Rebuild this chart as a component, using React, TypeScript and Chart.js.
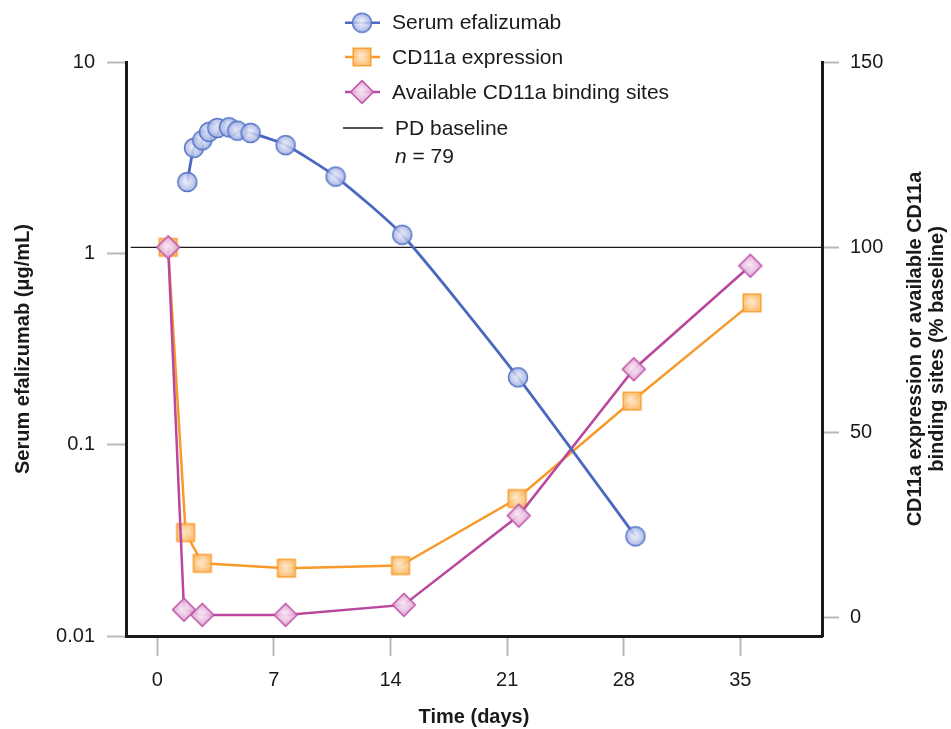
import React, { useEffect, useRef } from 'react';
import { Chart, registerables } from 'chart.js';
Chart.register(...registerables);

const FONT = '"Liberation Sans", Arial, Helvetica, sans-serif';
const INK = '#1a1a1a';

// ---- data ----
const serumDays = [1.8, 2.2, 2.7, 3.1, 3.6, 4.3, 4.8, 5.6, 7.7, 10.7, 14.7, 21.65, 28.7];
const serumValues = [2.36, 3.56, 3.9, 4.31, 4.52, 4.56, 4.38, 4.26, 3.68, 2.52, 1.25, 0.225, 0.0332];
const cd11aDays = [0.65, 1.7, 2.7, 7.75, 14.6, 21.6, 28.5, 35.7];
const cd11aValues = [100, 23, 14.7, 13.4, 14.1, 32.2, 58.5, 85];
const bindingDays = [0.65, 1.6, 2.7, 7.7, 14.8, 21.7, 28.6, 35.6];
const bindingValues = [100, 2.2, 0.8, 0.8, 3.5, 27.6, 67.1, 95];
const baselineDays = [-1.6, 39.9];
const baselineValues = [100, 100];

const xTicks = [0, 7, 14, 21, 28, 35];
const leftTicks = [0.01, 0.1, 1, 10];
const rightTicks = [0, 50, 100, 150];

const seriesLabels = ['Serum efalizumab', 'CD11a expression', 'Available CD11a binding sites', 'PD baseline'];
const nLabel = '79';
const xTitle = 'Time (days)';
const leftTitle = 'Serum efalizumab (\u03bcg/mL)';
const rightTitleLines = ['CD11a expression or available CD11a', 'binding sites (% baseline)'];

const X_MIN = -1.88;
const X_MAX = 39.9;
const R_MIN = -4.9;
const R_MAX = 150;

const BLUE = '#4a68c0';
const ORANGE = '#f89a2a';
const MAGENTA = '#b9479d';

function makeMarker(kind: string, stroke: string, light: string, dark: string) {
  const c = document.createElement('canvas');
  const S = 26;
  c.width = S;
  c.height = S;
  const g = c.getContext('2d')!;
  const cx = S / 2, cy = S / 2;
  g.beginPath();
  if (kind === 'circle') g.arc(cx, cy, 9.5, 0, Math.PI * 2);
  else if (kind === 'square') g.rect(cx - 8.8, cy - 8.8, 17.6, 17.6);
  else {
    const r = 11.4;
    g.moveTo(cx, cy - r);
    g.lineTo(cx + r, cy);
    g.lineTo(cx, cy + r);
    g.lineTo(cx - r, cy);
    g.closePath();
  }
  const grad = g.createRadialGradient(cx - 1, cy - 1, 0, cx, cy, 11);
  grad.addColorStop(0, light);
  grad.addColorStop(1, dark);
  g.fillStyle = grad;
  g.fill();
  g.lineWidth = 1.5;
  g.strokeStyle = stroke;
  g.stroke();
  return c;
}

const toXY = (xs: number[], ys: number[]) => xs.map((x, i) => ({ x, y: ys[i] }));

export default function App() {
  const ref = useRef<HTMLCanvasElement>(null);
  useEffect(() => {
    document.body.style.margin = '0';
    const canvas = ref.current!;
    const circle = makeMarker('circle', '#5673c8', 'rgba(242,244,252,0.85)', 'rgba(145,162,222,0.85)');
    const square = makeMarker('square', '#f8a035', 'rgba(255,236,210,0.92)', 'rgba(250,178,85,0.92)');
    const diamond = makeMarker('diamond', '#c058a8', 'rgba(252,238,248,0.92)', 'rgba(222,162,212,0.92)');

    const overlay = {
      id: 'overlay',
      afterDraw(chart: any) {
        const ctx = chart.ctx;
        ctx.save();
        // legend
        const lx1 = 345, lx2 = 380, mx = 362, tx = 392;
        const rows = [
          { y: 22.7, color: BLUE, img: circle },
          { y: 57, color: ORANGE, img: square },
          { y: 92, color: MAGENTA, img: diamond },
        ];
        rows.forEach((r, i) => {
          ctx.strokeStyle = r.color;
          ctx.lineWidth = 2.5;
          ctx.beginPath();
          ctx.moveTo(lx1, r.y);
          ctx.lineTo(lx2, r.y);
          ctx.stroke();
          ctx.drawImage(r.img, mx - r.img.width / 2, r.y - r.img.height / 2);
          ctx.fillStyle = INK;
          ctx.font = `21px ${FONT}`;
          ctx.textAlign = 'left';
          ctx.textBaseline = 'middle';
          ctx.fillText(seriesLabels[i], tx, r.y + 1);
        });
        ctx.strokeStyle = INK;
        ctx.lineWidth = 1.3;
        ctx.beginPath();
        ctx.moveTo(343, 128);
        ctx.lineTo(383, 128);
        ctx.stroke();
        ctx.fillText(seriesLabels[3], 395, 129);
        ctx.font = `italic 21px ${FONT}`;
        ctx.fillText('n', 395, 157);
        const nw = ctx.measureText('n').width;
        ctx.font = `21px ${FONT}`;
        ctx.fillText(' = ' + nLabel, 395 + nw, 157);

        // right title, reading bottom to top
        const area = chart.chartArea;
        const cy = (area.top + area.bottom) / 2;
        ctx.translate(915, cy);
        ctx.rotate(-Math.PI / 2);
        ctx.font = `bold 20px ${FONT}`;
        ctx.textAlign = 'center';
        ctx.textBaseline = 'middle';
        ctx.fillText(rightTitleLines[0], 0, 0);
        ctx.fillText(rightTitleLines[1], 0, 22);
        ctx.restore();
      },
    };

    const chart = new Chart(canvas, {
      type: 'line',
      data: {
        datasets: [
          {
            label: seriesLabels[0],
            data: toXY(serumDays, serumValues),
            yAxisID: 'y',
            borderColor: BLUE,
            borderWidth: 2.8,
            pointStyle: circle as any,
            tension: 0.2,
            order: 1,
          },
          {
            label: seriesLabels[2],
            data: toXY(bindingDays, bindingValues),
            yAxisID: 'y1',
            borderColor: MAGENTA,
            borderWidth: 2.5,
            pointStyle: diamond as any,
            tension: 0,
            order: 2,
          },
          {
            label: seriesLabels[1],
            data: toXY(cd11aDays, cd11aValues),
            yAxisID: 'y1',
            borderColor: ORANGE,
            borderWidth: 2.5,
            pointStyle: square as any,
            tension: 0,
            order: 3,
          },
          {
            label: seriesLabels[3],
            data: toXY(baselineDays, baselineValues),
            yAxisID: 'y1',
            borderColor: INK,
            borderWidth: 1.3,
            pointRadius: 0,
            order: 4,
          },
        ],
      },
      options: {
        responsive: false,
        animation: false,
        layout: { padding: { top: 62, left: 0, right: 0, bottom: 0 } },
        plugins: { legend: { display: false }, tooltip: { enabled: false } },
        elements: { point: { radius: 10 } },
        scales: {
          x: {
            type: 'linear',
            min: X_MIN,
            max: X_MAX,
            afterBuildTicks: (s: any) => { s.ticks = xTicks.map((v) => ({ value: v })); },
            afterFit: (s: any) => { s.height = 93; },
            border: { display: true, color: INK, width: 3 },
            grid: { drawOnChartArea: false, drawTicks: true, tickLength: 20, tickColor: '#b8b8b8', tickWidth: 2 },
            ticks: { font: { size: 20, family: FONT }, color: INK, padding: 12, maxRotation: 0, autoSkip: false },
            title: { display: true, text: xTitle, font: { size: 20, weight: 'bold', family: FONT }, color: INK, padding: { top: 0, bottom: 0 } },
          },
          y: {
            type: 'logarithmic',
            position: 'left',
            min: 0.01,
            max: 10,
            afterBuildTicks: (s: any) => { s.ticks = leftTicks.map((v) => ({ value: v })); },
            afterFit: (s: any) => { s.width = 126; },
            border: { display: true, color: INK, width: 3 },
            grid: { drawOnChartArea: false, drawTicks: true, tickLength: 19, tickColor: '#b8b8b8', tickWidth: 2 },
            ticks: { font: { size: 20, family: FONT }, color: INK, padding: 12, callback: (v: any) => String(v) },
            title: { display: true, text: leftTitle, font: { size: 20, weight: 'bold', family: FONT }, color: INK, padding: { top: 11, bottom: 0 } },
          },
          y1: {
            type: 'linear',
            position: 'right',
            min: R_MIN,
            max: R_MAX,
            afterBuildTicks: (s: any) => { s.ticks = rightTicks.map((v) => ({ value: v })); },
            afterFit: (s: any) => { s.width = 129; },
            border: { display: true, color: INK, width: 3 },
            grid: { drawOnChartArea: false, drawTicks: true, tickLength: 17, tickColor: '#b8b8b8', tickWidth: 2 },
            ticks: { font: { size: 20, family: FONT }, color: INK, padding: 11 },
          },
        },
      },
      plugins: [overlay],
    } as any);
    return () => chart.destroy();
  }, []);
  return (
    <div style={{ width: 951, height: 729 }}>
      <canvas ref={ref} width={951} height={729} style={{ display: 'block' }} />
    </div>
  );
}
